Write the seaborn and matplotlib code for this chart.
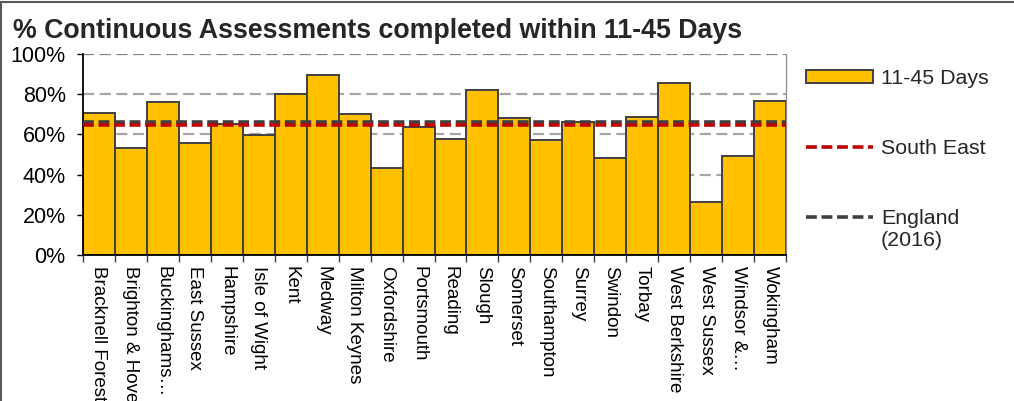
import matplotlib
matplotlib.use("Agg")
import matplotlib.pyplot as plt
from matplotlib.lines import Line2D
from matplotlib.patches import Patch
from matplotlib.legend_handler import HandlerLine2D
from matplotlib.ticker import FixedLocator, FuncFormatter
import seaborn as sns
import pandas as pd

# ---- data ----
authorities = ["Bracknell Forest", "Brighton & Hove", "Buckinghams\u2026", "East Sussex",
               "Hampshire", "Isle of Wight", "Kent", "Medway", "Milton Keynes",
               "Oxfordshire", "Portsmouth", "Reading", "Slough", "Somerset",
               "Southampton", "Surrey", "Swindon", "Torbay", "West Berkshire",
               "West Sussex", "Windsor &\u2026", "Wokingham"]
pct_11_45 = [70.4, 53.0, 76.0, 55.5, 65.0, 59.8, 80.2, 89.4, 70.2, 43.2, 63.5,
             57.6, 82.2, 68.1, 57.0, 66.1, 48.2, 68.8, 85.5, 26.4, 49.2, 76.7]
south_east = 64.6
england_2016 = 66.3
y_ticks = [0, 20, 40, 60, 80, 100]

sns.set_style("white")
plt.rcParams["font.family"] = ["Liberation Sans", "DejaVu Sans"]

df = pd.DataFrame({"authority": authorities, "pct": pct_11_45})

fig = plt.figure(figsize=(10.14, 4.01), dpi=100)
ax = fig.add_axes([83 / 1014, 1 - 255 / 401, (786 - 83) / 1014, (255 - 54) / 401])

DASH = (0, (3, 1.3))

# gridlines (behind bars)
for yt in y_ticks[1:]:
    col = "#7f7f7f" if yt == 100 else "#a6a6a6"
    ax.axhline(yt, color=col, lw=1.6, ls=(0, (5, 2.5)), zorder=0)

sns.barplot(data=df, x="authority", y="pct", color="#FFC000", edgecolor="#404040",
            linewidth=1.4, width=1.0, saturation=1, ax=ax, zorder=2)

ax.axhline(england_2016, color="#404040", lw=2.6, ls=DASH, zorder=3)
ax.axhline(south_east, color="#C00000", lw=2.6, ls=DASH, zorder=4)

ax.set_xlim(-0.5, len(authorities) - 0.5)
ax.set_ylim(0, 100)
ax.set_xlabel("")
ax.set_ylabel("")

ax.yaxis.set_major_locator(FixedLocator(y_ticks))
ax.yaxis.set_major_formatter(FuncFormatter(lambda v, p: f"{v:.0f}%"))
ax.tick_params(axis="y", which="major", left=True, length=4.5, width=1, color="black",
               labelsize=15.5, pad=8, labelcolor="black")

ax.set_xticks(range(len(authorities)))
ax.set_xticklabels(authorities, rotation=270, ha="center", va="top", fontsize=13.5)
ax.tick_params(axis="x", which="major", length=0, pad=8, labelcolor="black")
ax.xaxis.set_minor_locator(FixedLocator([i - 0.5 for i in range(len(authorities) + 1)]))
ax.tick_params(axis="x", which="minor", bottom=True, length=5, width=1, color="#404040")

for s in ["left", "bottom"]:
    ax.spines[s].set_color("black")
    ax.spines[s].set_linewidth(1.3)
ax.spines["top"].set_visible(False)
ax.spines["right"].set_visible(True)
ax.spines["right"].set_color("#8c8c8c")
ax.spines["right"].set_linewidth(0.9)
ax.spines["bottom"].set_zorder(5)

# title
fig.text(13 / 1014, 1 - 38 / 401, "% Continuous Assessments completed within 11-45 Days",
         fontsize=19.3, fontweight="bold", ha="left", va="baseline")


class FirstLineHandler(HandlerLine2D):
    """Place the line next to the first line of a two-line label."""
    def create_artists(self, legend, orig_handle, xdescent, ydescent, width, height,
                       fontsize, trans):
        arts = super().create_artists(legend, orig_handle, xdescent, ydescent, width,
                                      height, fontsize, trans)
        for a in arts:
            if isinstance(a, Line2D):
                a.set_ydata([y + 0.6 * fontsize for y in a.get_ydata()])
        return arts


# legend
eng_handle = Line2D([], [], color="#404040", lw=2.6, ls=DASH)
handles = [Patch(facecolor="#FFC000", edgecolor="#404040", linewidth=1.4),
           Line2D([], [], color="#C00000", lw=2.6, ls=DASH),
           eng_handle]
labels = ["11-45 Days", "South East", "England\n(2016)"]
fig.legend(handles, labels, loc="upper left", bbox_to_anchor=(806 / 1014, 1 - 69 / 401),
           frameon=False, fontsize=15.4, handlelength=3.13, handleheight=0.5,
           handletextpad=0.37, labelspacing=2.38, borderaxespad=0, borderpad=0,
           handler_map={eng_handle: FirstLineHandler()})

# figure border (left and top)
fig.add_artist(Line2D([0.5 / 1014, 0.5 / 1014], [0, 1 - 1.5 / 401], transform=fig.transFigure,
                      color="#595959", lw=1.5))
fig.add_artist(Line2D([0, 1], [1 - 1.5 / 401, 1 - 1.5 / 401], transform=fig.transFigure,
                      color="#595959", lw=1.5))

fig.savefig("out.png", dpi=100)
